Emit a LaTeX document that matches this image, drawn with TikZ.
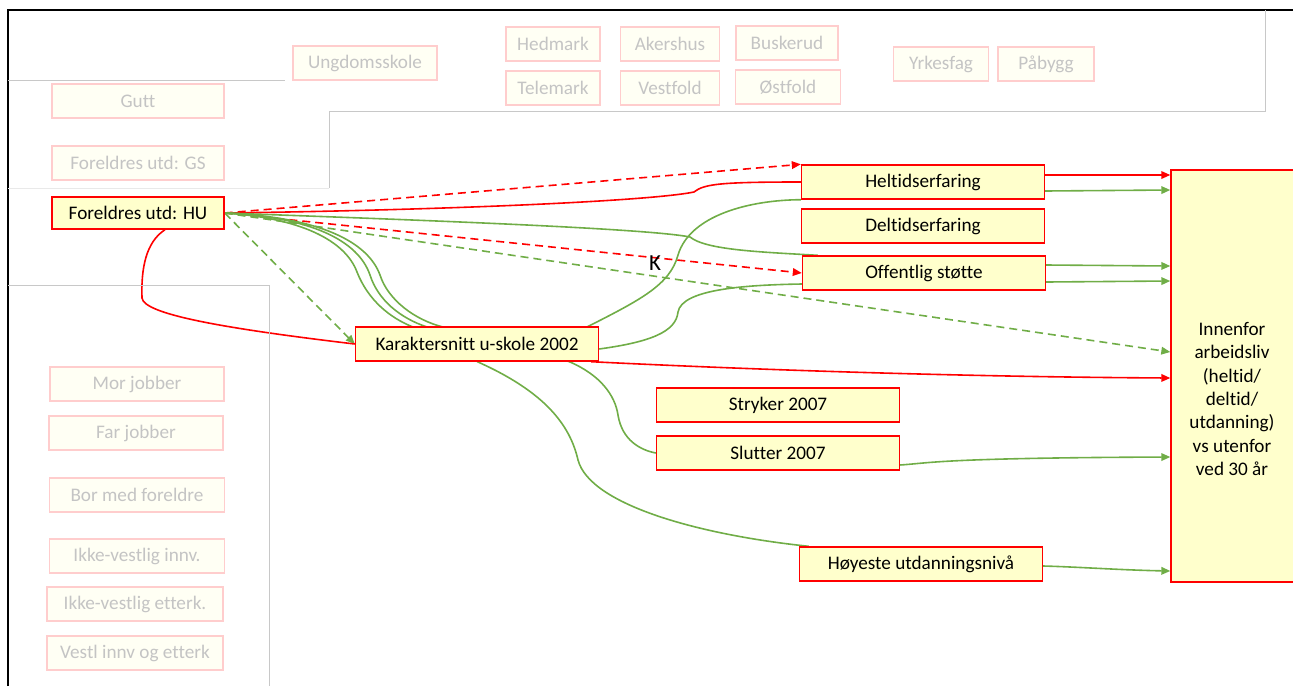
\documentclass[tikz,border=0pt]{standalone}
\usepackage{fontspec}
\setmainfont[Ligatures={NoCommon,NoContextual},RawFeature={-liga;-clig}]{Carlito}
\usepackage{xcolor}
\usepackage{tikz}
\usetikzlibrary{arrows, arrows.meta, backgrounds}

\definecolor{rod}{RGB}{255,0,0}
\definecolor{gronn}{RGB}{112,173,71}
\definecolor{gul}{RGB}{255,255,204}
\definecolor{blekgul}{RGB}{255,255,244}
\definecolor{blekrod}{RGB}{255,205,205}
\definecolor{blektekst}{RGB}{196,196,196}
\definecolor{panel}{RGB}{200,200,200}

\tikzset{
  tekst/.style={font=\fontsize{9.6}{11.7}\selectfont},
  boks/.style={tekst, draw=rod, fill=gul, line width=0.7pt, minimum width=121.5pt, minimum height=17pt, inner sep=0pt},
  blek/.style={tekst, draw=blekrod, fill=blekgul, line width=0.7pt, minimum height=17pt, inner sep=0pt, text=blektekst},
  pil/.style={-{Triangle[length=4.5pt,width=3.8pt]}},
  rodlinje/.style={rod, line width=0.8pt},
  gronnlinje/.style={gronn, line width=0.8pt},
  stiplet/.style={dash pattern=on 4pt off 2.5pt},
}

\begin{document}
\begin{tikzpicture}[x=0.5pt,y=-0.5pt]
\useasboundingbox (0,0) rectangle (1293,686);
% ramme og paneler
\draw[line width=1pt] (8,686) -- (8,10) -- (1293,10);
\draw[panel,line width=0.5pt] (8,80) -- (285,80);
\draw[panel,line width=0.5pt] (1265,10) -- (1265,111) -- (329,111) -- (329,188);
\draw[panel!40,line width=0.5pt] (8,188) -- (329,188);
\draw[panel,line width=0.5pt] (8,285) -- (269,285) -- (269,686);

% bleke bokser
\node[blek, minimum width=72pt] (ungdom) at (365,63) {Ungdomsskole};
\node[blek, minimum width=47pt] (hedmark) at (553,44) {Hedmark};
\node[blek, minimum width=49.5pt] (akershus) at (670,44) {Akershus};
\node[blek, minimum width=51pt] (buskerud) at (787,43) {Buskerud};
\node[blek, minimum width=47pt] (telemark) at (553,88) {Telemark};
\node[blek, minimum width=49.5pt] (vestfold) at (670,88) {Vestfold};
\node[blek, minimum width=52.5pt] (ostfold) at (788,87) {Østfold};
\node[blek, minimum width=47.5pt] (yrkesfag) at (941,64) {Yrkesfag};
\node[blek, minimum width=48pt] (pabygg) at (1046,64) {Påbygg};

\node[blek, minimum width=86pt] (gutt) at (138,101) {Gutt};
\node[blek, minimum width=86pt] (gs) at (138,163) {Foreldres utd: GS};
\node[blek, minimum width=87pt] (mor) at (137,384) {Mor jobber};
\node[blek, minimum width=87pt] (far) at (136,433) {Far jobber};
\node[blek, minimum width=87.5pt] (bor) at (137,495) {Bor med foreldre};
\node[blek, minimum width=87.5pt] (ikkeinnv) at (137,556) {Ikke-vestlig innv.};
\node[blek, minimum width=88pt] (ikkeetterk) at (135,604) {Ikke-vestlig etterk.};
\node[blek, minimum width=88pt] (vestl) at (135,653) {Vestl innv og etterk};

% aktive bokser
\node[boks, minimum width=86pt, minimum height=16pt] (hu) at (138,213) {Foreldres utd: HU};
\node[boks] (karakter) at (477,344) {Karaktersnitt u-skole 2002};
\node[boks] (heltid) at (923,182) {Heltidserfaring};
\node[boks] (deltid) at (923,226) {Deltidserfaring};
\node[boks] (offentlig) at (924,273) {Offentlig støtte};
\node[boks] (stryker) at (778,405) {Stryker 2007};
\node[boks] (slutter) at (778,453) {Slutter 2007};
\node[boks] (hoyeste) at (921,564) {Høyeste utdanningsnivå};
\node[boks, minimum width=64pt, minimum height=206pt] (utfall) at (1235,376) {};
\node[tekst, align=center] (utfalltekst) at (1232,399) {Innenfor\\arbeidsliv\\(heltid/\\deltid/\\utdanning)\\vs utenfor\\ved 30 år};
\node[font=\fontsize{11.5}{13}\selectfont] (k) at (655,263) {K};

\begin{scope}[on background layer]
% fra foreldres utdanning
\draw[rodlinje,stiplet,pil] (hu.east) -- (heltid.north west);
\draw[rodlinje] (hu.east) .. controls (450,210) and (650,201) .. (694,192) .. controls (704,184) and (720,182) .. (heltid.west);
\draw[rodlinje,stiplet,pil] (hu.east) -- (offentlig.west);
\draw[gronnlinje,stiplet,pil] (hu.east) -- ([yshift=12pt]utfall.west);
\draw[gronnlinje,stiplet,pil] (hu.east) -- (karakter.west);
\draw[gronnlinje] (hu.east) .. controls (450,221) and (650,229) .. (690,237) .. controls (706,250) and (760,252) .. ([xshift=8pt]offentlig.north west);
\draw[rodlinje] ([xshift=13.5pt]hu.south) .. controls (146,242) and (141,268) .. (142,298) .. controls (144,314) and (220,328) .. (karakter.west);
\draw[gronnlinje] (hu.east) .. controls (300,218) and (345,240) .. (357,272) .. controls (368,300) and (390,318) .. (413,327) .. controls (440,340) and (460,350) .. (478,362) .. controls (545,392) and (570,425) .. (578,460) .. controls (590,505) and (700,535) .. ([xshift=5pt]hoyeste.north west);
\draw[gronnlinje] (hu.east) .. controls (310,217) and (358,240) .. (370,275) .. controls (378,300) and (400,318) .. (427,327) .. controls (480,345) and (540,350) .. (570,362) .. controls (600,375) and (615,395) .. (618,415) .. controls (622,440) and (640,450) .. (slutter.west);
\draw[gronnlinje] (hu.east) .. controls (320,217) and (368,242) .. (380,275) .. controls (388,300) and (415,320) .. (443,327) .. controls (500,345) and (560,345) .. (587,327) .. controls (640,300) and (670,285) .. (678,255) .. controls (690,215) and (750,200) .. (heltid.south west);
% fra karaktersnitt
\draw[gronnlinje] ([yshift=-2.5pt]karakter.east) .. controls (650,342) and (676,332) .. (678,312) .. controls (682,290) and (740,285) .. ([yshift=-5.5pt]offentlig.west);
\draw[rodlinje,pil] ([xshift=-4pt]karakter.south east) .. controls (800,372) and (1000,377) .. ([yshift=-1pt]utfall.west);
% til utfall
\draw[rodlinje,pil] ([yshift=3.5pt]heltid.east) -- ([yshift=3.5pt]heltid.east -| utfall.west);
\draw[gronnlinje,pil] ([yshift=-4.5pt]heltid.east) -- ([yshift=-4pt]heltid.east -| utfall.west);
\draw[gronnlinje,pil] ([yshift=4pt]offentlig.east) -- ([yshift=3.5pt]offentlig.east -| utfall.west);
\draw[gronnlinje,pil] ([yshift=-4.5pt]offentlig.east) -- ([yshift=-4pt]offentlig.east -| utfall.west);
\draw[gronnlinje,pil] ([yshift=-6pt]slutter.east) .. controls (930,463) and (940,458) .. ([yshift=-2pt]slutter.east -| utfall.west);
\draw[gronnlinje,pil] ([yshift=-1pt]hoyeste.east) .. controls (1080,567) and (1120,570) .. ([yshift=-3.5pt]hoyeste.east -| utfall.west);
\end{scope}
\end{tikzpicture}
\end{document}
